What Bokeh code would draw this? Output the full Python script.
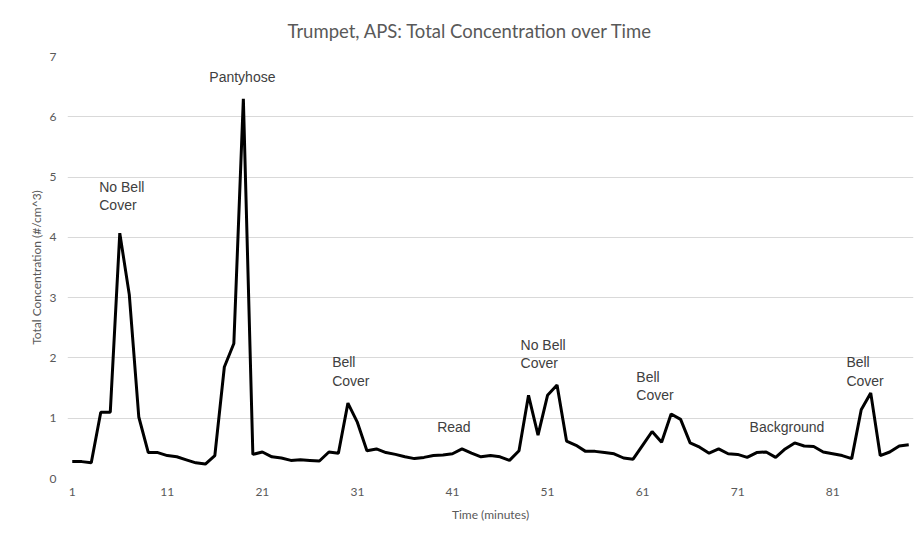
from bokeh.plotting import figure
from bokeh.models import Range1d, FixedTicker, ColumnDataSource
from bokeh.core.properties import value
from bokeh.embed import file_html
from bokeh.resources import INLINE

# ---- data ----
minutes = list(range(1, 90))
concentration = [
    0.28, 0.28, 0.26, 1.10, 1.10, 4.07, 3.05, 1.02, 0.43, 0.43,
    0.38, 0.36, 0.31, 0.26, 0.24, 0.38, 1.85, 2.24, 6.30, 0.40,
    0.44, 0.36, 0.34, 0.30, 0.31, 0.30, 0.29, 0.44, 0.42, 1.25,
    0.93, 0.46, 0.49, 0.43, 0.40, 0.36, 0.33, 0.35, 0.38, 0.39,
    0.41, 0.49, 0.42, 0.36, 0.38, 0.36, 0.30, 0.46, 1.38, 0.72,
    1.38, 1.55, 0.62, 0.55, 0.45, 0.45, 0.43, 0.41, 0.34, 0.32,
    0.55, 0.78, 0.60, 1.07, 0.98, 0.59, 0.52, 0.42, 0.49, 0.41,
    0.40, 0.35, 0.43, 0.44, 0.35, 0.49, 0.59, 0.54, 0.53, 0.44,
    0.41, 0.38, 0.33, 1.14, 1.42, 0.38, 0.44, 0.54, 0.56,
]
x_tick_values = [1, 11, 21, 31, 41, 51, 61, 71, 81]
y_tick_values = [0, 1, 2, 3, 4, 5, 6, 7]

label_text = ["No Bell\nCover", "Pantyhose", "Bell\nCover", "Read",
              "No Bell\nCover", "Bell\nCover", "Background", "Bell\nCover"]
label_x = [3.84, 15.42, 28.34, 39.39, 48.16, 60.34, 72.26, 82.44]
label_y = [4.97, 6.79, 2.06, 0.995, 2.355, 1.824, 0.995, 2.06]

title_text = "Trumpet, APS: Total Concentration over Time"
x_title = "Time (minutes)"
y_title = "Total Concentration (#/cm^3)"

# ---- figure ----
p = figure(width=914, height=529, output_backend="svg", toolbar_location=None,
           x_range=Range1d(0.5, 89.5), y_range=Range1d(0, 7),
           min_border_left=67, min_border_right=1, min_border_top=56,
           min_border_bottom=51, title=title_text)
p.outline_line_color = None
p.background_fill_color = "white"
p.border_fill_color = "white"

p.title.align = "left"
p.title.offset = 220
p.title.text_font = "Lato"
p.title.text_font_size = "18.5px"
p.title.text_font_style = "normal"
p.title.text_color = "#595959"
p.title.standoff = 30

p.xgrid.grid_line_color = None
p.ygrid.grid_line_color = "#d9d9d9"
p.ygrid.grid_line_width = 1

for ax in (p.xaxis[0], p.yaxis[0]):
    ax.axis_line_color = None
    ax.major_tick_line_color = None
    ax.minor_tick_line_color = None
    ax.major_tick_out = 0
    ax.major_tick_in = 0
    ax.major_label_text_font = "Lato"
    ax.major_label_text_font_size = "12px"
    ax.major_label_text_color = "#595959"
    ax.axis_label_text_font = "Lato"
    ax.axis_label_text_font_size = "12px"
    ax.axis_label_text_font_style = "normal"
    ax.axis_label_text_color = "#595959"

p.xaxis[0].ticker = FixedTicker(ticks=x_tick_values)
p.yaxis[0].ticker = FixedTicker(ticks=y_tick_values)
p.xaxis[0].major_label_standoff = 9
p.yaxis[0].major_label_standoff = 11
p.xaxis[0].axis_label = x_title
p.yaxis[0].axis_label = y_title
p.xaxis[0].axis_label_standoff = 8
p.yaxis[0].axis_label_standoff = 3

src = ColumnDataSource(dict(x=minutes, y=concentration))
p.line("x", "y", source=src, line_color="black", line_width=3)

lsrc = ColumnDataSource(dict(x=label_x, y=label_y, t=label_text))
p.text("x", "y", text="t", source=lsrc, text_font=value("Liberation Sans"),
       text_font_size="14px", text_color="#404040", text_baseline="top",
       text_align="left", text_line_height=1.15)

open("out.html", "w").write(file_html(p, INLINE))
